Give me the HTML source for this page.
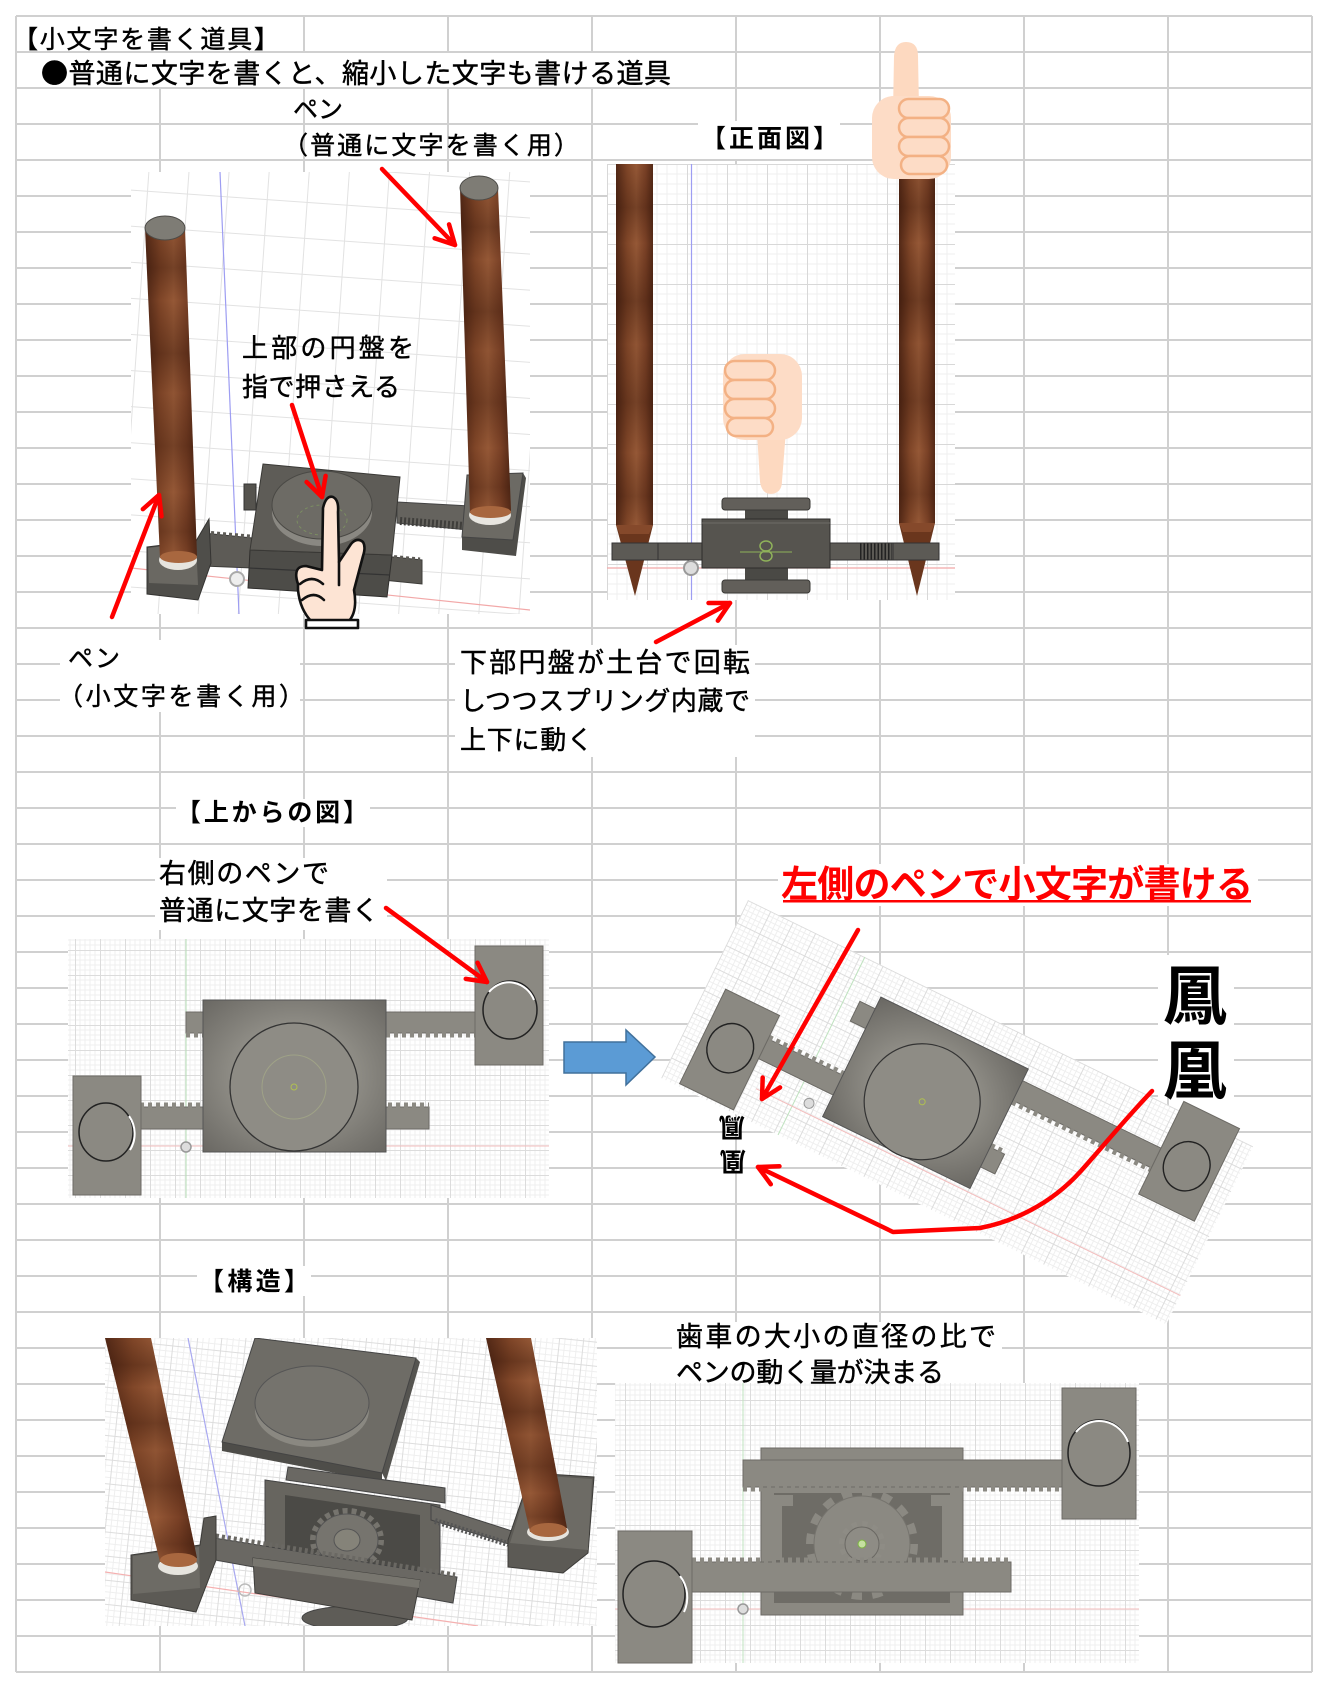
<!DOCTYPE html>
<html lang="ja"><head><meta charset="utf-8"><title>小文字を書く道具</title>
<style>
html,body{margin:0;padding:0;background:#fff;width:1328px;height:1688px;overflow:hidden}
svg{display:block}
text{font-family:"Liberation Sans","Noto Sans CJK JP",sans-serif;fill:#000}
.n{stroke:#000;stroke-width:0.45}
.b{font-weight:700}
.cj{font-family:"Noto Sans CJK JP","Liberation Sans",sans-serif}
</style></head><body>
<svg xmlns="http://www.w3.org/2000/svg" width="1328" height="1688" viewBox="0 0 1328 1688">
<defs>
<linearGradient id="pen" x1="0" y1="0" x2="1" y2="0">
<stop offset="0" stop-color="#522816"/><stop offset="0.3" stop-color="#804628"/><stop offset="0.55" stop-color="#955836"/><stop offset="0.8" stop-color="#7a4126"/><stop offset="1" stop-color="#552a17"/>
</linearGradient>
<linearGradient id="band" x1="0" y1="0" x2="0" y2="1">
<stop offset="0" stop-color="#2a0e04" stop-opacity="0"/>
<stop offset="0.12" stop-color="#2a0e04" stop-opacity="0.3"/>
<stop offset="0.22" stop-color="#2a0e04" stop-opacity="0"/>
<stop offset="0.38" stop-color="#2a0e04" stop-opacity="0.35"/>
<stop offset="0.5" stop-color="#2a0e04" stop-opacity="0.05"/>
<stop offset="0.66" stop-color="#2a0e04" stop-opacity="0.3"/>
<stop offset="0.8" stop-color="#2a0e04" stop-opacity="0"/>
<stop offset="0.92" stop-color="#2a0e04" stop-opacity="0.25"/>
<stop offset="1" stop-color="#2a0e04" stop-opacity="0"/>
</linearGradient>
<pattern id="gf" width="25" height="25" patternUnits="userSpaceOnUse">
<path d="M0 5H25M0 10H25M0 15H25M0 20H25M5 0V25M10 0V25M15 0V25M20 0V25" stroke="#efefef" stroke-width="1" fill="none"/>
<path d="M0 0.5H25M0.5 0V25" stroke="#dcdcdc" stroke-width="1" fill="none"/>
</pattern>
<pattern id="gA" width="40" height="36" patternUnits="userSpaceOnUse" patternTransform="rotate(4)">
<path d="M0 0.5H40M0.5 0V36" stroke="#e2e2e2" stroke-width="1" fill="none"/>
</pattern>
<pattern id="gB" width="40" height="40" patternUnits="userSpaceOnUse" x="607" y="164">
<path d="M0 10H40M0 20H40M0 30H40M10 0V40M20 0V40M30 0V40" stroke="#efefef" fill="none"/>
<path d="M0 0.5H40M0.5 0V40" stroke="#d8d8d8" fill="none"/>
</pattern>
<pattern id="gE" width="24" height="24" patternUnits="userSpaceOnUse" patternTransform="rotate(6)">
<path d="M0 6H24M0 12H24M0 18H24M6 0V24M12 0V24M18 0V24" stroke="#efefef" fill="none"/>
<path d="M0 0.5H24M0.5 0V24" stroke="#dddddd" fill="none"/>
</pattern>
<radialGradient id="blk" cx="0.5" cy="0.5" r="0.7">
<stop offset="0.5" stop-color="#8d8b84"/><stop offset="1" stop-color="#6a6863"/>
</radialGradient>
<marker id="ah" viewBox="-24 -14 28 28" markerWidth="28" markerHeight="28" refX="0" refY="0" orient="auto" markerUnits="userSpaceOnUse">
<path d="M-19,-10 L0,0 L-19,10" fill="none" stroke="#ff0000" stroke-width="4.5" stroke-linecap="round" stroke-linejoin="round"/>
</marker>
<clipPath id="cE"><rect x="105" y="1338" width="492" height="288"/></clipPath>
<clipPath id="cA"><rect x="131" y="172" width="399" height="442"/></clipPath>
</defs>

<rect width="1328" height="1688" fill="#fff"/>
<!-- Excel grid -->
<path fill="none" stroke="#d0d0d0" stroke-width="2" d="M16 16V1672M160 16V1672M304 16V1672M448 16V1672M592 16V1672M736 16V1672M880 16V1672M1024 16V1672M1168 16V1672M1312 16V1672
M16 16H1312M16 52H1312M16 88H1312M16 124H1312M16 160H1312M16 196H1312M16 232H1312M16 268H1312M16 304H1312M16 340H1312M16 376H1312M16 412H1312M16 448H1312M16 484H1312M16 520H1312M16 556H1312M16 592H1312M16 628H1312M16 664H1312M16 700H1312M16 736H1312M16 772H1312M16 808H1312M16 844H1312M16 880H1312M16 916H1312M16 952H1312M16 988H1312M16 1024H1312M16 1060H1312M16 1096H1312M16 1132H1312M16 1168H1312M16 1204H1312M16 1240H1312M16 1276H1312M16 1312H1312M16 1348H1312M16 1384H1312M16 1420H1312M16 1456H1312M16 1492H1312M16 1528H1312M16 1564H1312M16 1600H1312M16 1636H1312M16 1672H1312"/>

<!-- white text boxes / overflow masks -->
<g fill="#fff">
<rect x="17" y="17" width="285" height="34"/>
<rect x="17" y="53" width="700" height="34"/>
<rect x="60" y="640" width="240" height="72"/>
<rect x="455" y="645" width="300" height="112"/>
<rect x="698" y="121" width="142" height="38"/>
<rect x="176" y="799" width="194" height="28"/>
<rect x="155" y="858" width="232" height="72"/>
<rect x="778" y="864" width="480" height="42"/>
<rect x="1158" y="955" width="76" height="142"/>
<rect x="197" y="1266" width="114" height="30"/>
<rect x="672" y="1322" width="330" height="68"/>
</g>

<!-- ===== Image A: perspective view ===== -->
<rect x="131" y="172" width="399" height="442" fill="#fff"/>
<rect x="131" y="172" width="399" height="442" fill="url(#gA)"/>
<g clip-path="url(#cA)">
<line x1="220" y1="172" x2="239" y2="614" stroke="#9d9df2" stroke-width="1.2"/>
<line x1="131" y1="568" x2="530" y2="610" stroke="#f2a8a8" stroke-width="1.2"/>
</g>
<polygon points="397,502 470,506 468,530 397,523" fill="#65635e" stroke="#444"/>
<line x1="400" y1="521" x2="465" y2="526" stroke="#3f3e3b" stroke-width="8" stroke-dasharray="2 2"/>
<polygon points="383,556 422,560 422,584 383,580" fill="#5a5853" stroke="#3d3c39"/>
<line x1="388" y1="557" x2="420" y2="560" stroke="#5a5853" stroke-width="5" stroke-dasharray="3 3"/>
<polygon points="203,533 252,538 252,568 203,566" fill="#5d5b56" stroke="#3d3c39"/>
<line x1="205" y1="533" x2="250" y2="537" stroke="#5d5b56" stroke-width="5" stroke-dasharray="3 3"/>
<polygon points="467,475 523,473 526,478 516,556 462,550 462,537" fill="#4e4d49"/>
<polygon points="467,475 523,473 513,540 462,537" fill="#6c6a64" stroke="#444"/>
<ellipse cx="490" cy="515" rx="21" ry="10" fill="#e8e6e0"/>
<polygon points="250,550 392,555 387,597 248,588" fill="#4d4c48" stroke="#2f2e2c"/>
<line x1="249" y1="568" x2="390" y2="575" stroke="#333" stroke-width="1.2"/>
<polygon points="263,464 400,477 392,555 250,550" fill="#5e5c57" stroke="#3a3936"/>
<rect x="244" y="484" width="12" height="26" fill="#55534e" stroke="#333"/>
<ellipse cx="322" cy="512" rx="50" ry="34" fill="#8a8882"/>
<ellipse cx="322" cy="505" rx="50" ry="34" fill="#6d6b65" stroke="#4a4945"/>
<ellipse cx="322" cy="520" rx="25" ry="15" fill="none" stroke="#8ab060" stroke-opacity="0.5" stroke-dasharray="3 3"/>
<polygon points="147,547 196,541 209,519 211,563 198,600 147,594" fill="#4f4e4a" stroke="#353432"/>
<polygon points="148,548 196,542 198,585 149,583" fill="#6a6862"/>
<ellipse cx="178" cy="560" rx="19" ry="10" fill="#e6e4de"/>
<polygon points="145,228 185,228 197,556 160,558" fill="url(#pen)"/>
<polygon points="145,228 185,228 197,556 160,558" fill="url(#band)"/>
<ellipse cx="178.5" cy="557" rx="18.5" ry="6" fill="#a8673f"/>
<ellipse cx="165" cy="228" rx="20" ry="12" fill="#7e7c75" stroke="#4c4b47"/>
<polygon points="460,188 498,188 511,511 470,513" fill="url(#pen)"/>
<polygon points="460,188 498,188 511,511 470,513" fill="url(#band)"/>
<ellipse cx="490.5" cy="512" rx="20.5" ry="6" fill="#a8673f"/>
<ellipse cx="479" cy="188" rx="19" ry="12" fill="#7e7c75" stroke="#4c4b47"/>
<circle cx="237" cy="579" r="7" fill="#eee" stroke="#aaa" stroke-width="2"/>
<g fill="#fde4d4" stroke="#111" stroke-width="2.6" stroke-linejoin="round" stroke-linecap="round">
<path d="M298,584 Q292,566 306,566 L322,570 L323,508 Q326,495 333,497 Q339,500 338,512 L339,562 L351,544 Q357,537 363,542 Q366,547 363,556 L354,590 Q358,612 348,622 L312,622 Q300,610 298,590 Z"/>
<path d="M300,584 Q312,574 323,584" fill="none"/>
<path d="M302,600 Q314,590 324,600" fill="none"/>
<line x1="339" y1="562" x2="339" y2="585"/>
<rect x="306" y="620" width="52" height="8" fill="#fff"/>
</g>

<!-- ===== Image B: front view ===== -->
<rect x="607" y="164" width="348" height="436" fill="#fff"/>
<rect x="607" y="164" width="348" height="436" fill="url(#gB)"/>
<line x1="691.5" y1="164" x2="691.5" y2="600" stroke="#9d9df2" stroke-width="1.2"/>
<line x1="607" y1="568" x2="955" y2="568" stroke="#f2a8a8" stroke-width="1.2"/>
<rect x="616" y="164" width="37" height="361" fill="url(#pen)"/>
<rect x="616" y="164" width="37" height="361" fill="url(#band)"/>
<polygon points="616,525 653,525 635,596" fill="#6a361d"/>
<polygon points="616,525 653,525 649,534 620,534" fill="#85492b"/>
<rect x="899" y="164" width="36" height="359" fill="url(#pen)"/>
<rect x="899" y="164" width="36" height="359" fill="url(#band)"/>
<polygon points="899,523 935,523 917,596" fill="#6a361d"/>
<polygon points="899,523 935,523 931,532 903,532" fill="#85492b"/>
<rect x="612" y="543" width="327" height="17" fill="#5c5a55" stroke="#333"/>
<line x1="658" y1="543" x2="658" y2="560" stroke="#333"/>
<line x1="893" y1="543" x2="893" y2="560" stroke="#333"/>
<line x1="860" y1="551.5" x2="892" y2="551.5" stroke="#222" stroke-width="16" stroke-dasharray="1.5 2"/>
<rect x="745" y="508" width="43" height="12" fill="#4a4945"/>
<rect x="722" y="498" width="88" height="12" rx="3" fill="#625f5a" stroke="#3a3936"/>
<rect x="745" y="567" width="43" height="14" fill="#4a4945"/>
<rect x="722" y="580" width="88" height="13" rx="3" fill="#625f5a" stroke="#3a3936"/>
<rect x="702" y="519" width="128" height="49" fill="#56544f" stroke="#2e2d2b"/>
<line x1="702" y1="523" x2="830" y2="523" stroke="#6e6c67"/>
<line x1="740" y1="552" x2="792" y2="552" stroke="#8fb25a"/>
<ellipse cx="766" cy="546" rx="6" ry="5" fill="none" stroke="#8fb25a" stroke-width="1.5"/>
<ellipse cx="766" cy="556" rx="6" ry="5" fill="none" stroke="#8fb25a" stroke-width="1.5"/>
<circle cx="691" cy="568" r="7" fill="#ddd" stroke="#999" stroke-width="2"/>
<path d="M757,432 L760,482 Q762,494 771,494 Q782,493 782,481 L786,430 Z" fill="#fdd9c0"/>
<rect x="723" y="354" width="79" height="86" rx="22" fill="#fddcc6"/>
<g fill="#fddcc6" stroke="#f3b184" stroke-width="2.5">
<rect x="725" y="361" width="50" height="19" rx="9.5"/>
<rect x="725" y="380" width="50" height="19" rx="9.5"/>
<rect x="725" y="399" width="50" height="19" rx="9.5"/>
<rect x="727" y="418" width="46" height="18" rx="9"/>
</g>

<!-- thumbs up -->
<path d="M893,112 L894,56 Q895,42 906,42 Q918,42 918,56 L919,108 Z" fill="#fdd9c0"/>
<rect x="872" y="96" width="79" height="83" rx="22" fill="#fddcc6"/>
<g fill="#fddcc6" stroke="#f3b184" stroke-width="2.5">
<rect x="899" y="99" width="50" height="19" rx="9.5"/>
<rect x="899" y="118" width="50" height="19" rx="9.5"/>
<rect x="899" y="137" width="50" height="19" rx="9.5"/>
<rect x="901" y="156" width="46" height="18" rx="9"/>
</g>

<!-- ===== Image C: top view ===== -->
<rect x="68" y="939" width="481" height="259" fill="#fff"/>
<rect x="68" y="939" width="481" height="259" fill="url(#gf)"/>
<line x1="186" y1="939" x2="186" y2="1198" stroke="#b5dcb5"/>
<line x1="68" y1="1146" x2="549" y2="1146" stroke="#f3bcbc"/>
<g fill="#8b8982" stroke="#6c6a65">
<rect x="186" y="1012" width="289" height="21"/>
<rect x="140" y="1107" width="289" height="22"/>
</g>
<line x1="186" y1="1035" x2="475" y2="1035" stroke="#8b8982" stroke-width="5" stroke-dasharray="4 4"/>
<line x1="140" y1="1105" x2="429" y2="1105" stroke="#8b8982" stroke-width="5" stroke-dasharray="4 4"/>
<rect x="203" y="1000" width="183" height="152" fill="url(#blk)" stroke="#555"/>
<circle cx="294" cy="1087" r="64" fill="#8e8c85" stroke="#333" stroke-width="1.3"/>
<circle cx="294" cy="1087" r="32" fill="none" stroke="#b8c48a" stroke-opacity="0.4"/>
<circle cx="294" cy="1087" r="3" fill="none" stroke="#b0c050"/>
<rect x="475" y="946" width="68" height="119" fill="#8b8982" stroke="#6c6a65"/>
<ellipse cx="510" cy="1010" rx="27" ry="29" fill="none" stroke="#222" stroke-width="1.5"/>
<path d="M489,992 A27,29 0 0 1 534,1000" fill="none" stroke="#fff" stroke-width="2"/>
<rect x="73" y="1076" width="68" height="119" fill="#8b8982" stroke="#6c6a65"/>
<ellipse cx="106" cy="1132" rx="27" ry="29" fill="none" stroke="#222" stroke-width="1.5"/>
<path d="M129,1116 A27,29 0 0 1 130,1150" fill="none" stroke="#fff" stroke-width="2"/>
<circle cx="186" cy="1147" r="5" fill="#ddd" stroke="#999" stroke-width="1.5"/>

<polygon points="564,1042 626,1042 626,1030 655,1057 626,1085 626,1073 564,1073" fill="#5b9bd5" stroke="#41719c" stroke-width="1.5"/>

<!-- ===== Image D: rotated top view ===== -->
<g transform="translate(748,900) rotate(26)">
<rect x="0" y="0" width="562" height="198" fill="#fff"/>
<rect x="0" y="0" width="562" height="198" fill="url(#gf)"/>
<line x1="130" y1="0" x2="130" y2="198" stroke="#bfe3bf"/>
<line x1="90" y1="166" x2="562" y2="166" stroke="#f3bcbc"/>
<rect x="145" y="42" width="335" height="22" fill="#8b8982" stroke="#6c6a65"/>
<line x1="326" y1="66" x2="480" y2="66" stroke="#8b8982" stroke-width="5" stroke-dasharray="4 4"/>
<rect x="79" y="116" width="263" height="22" fill="#8b8982" stroke="#6c6a65"/>
<line x1="79" y1="114" x2="162" y2="114" stroke="#8b8982" stroke-width="5" stroke-dasharray="4 4"/>
<line x1="326" y1="114" x2="342" y2="114" stroke="#8b8982" stroke-width="5" stroke-dasharray="4 4"/>
<rect x="162" y="29" width="164" height="133" fill="url(#blk)" stroke="#555"/>
<circle cx="245" cy="105" r="58" fill="#8e8c85" stroke="#333" stroke-width="1.2"/>
<circle cx="245" cy="105" r="3" fill="none" stroke="#b0c050"/>
<rect x="19" y="90" width="60" height="105" fill="#8b8982" stroke="#6c6a65"/>
<ellipse cx="49" cy="141" rx="23" ry="25" fill="none" stroke="#222" stroke-width="1.4"/>
<rect x="480" y="-10" width="62" height="103" fill="#8b8982" stroke="#6c6a65"/>
<ellipse cx="511" cy="47" rx="23" ry="25" fill="none" stroke="#222" stroke-width="1.4"/>
<circle cx="144" cy="156" r="5" fill="#ddd" stroke="#999"/>
</g>

<!-- ===== Image E: structure ===== -->
<rect x="105" y="1338" width="492" height="288" fill="#fff"/>
<rect x="105" y="1338" width="492" height="288" fill="url(#gE)"/>
<g clip-path="url(#cE)">
<line x1="188" y1="1338" x2="245" y2="1626" stroke="#a8a8f0" stroke-width="1.2"/>
<line x1="105" y1="1572" x2="478" y2="1626" stroke="#f5b0b0" stroke-width="1.2"/>
<polygon points="222,1442 382,1473 382,1482 222,1451" fill="#4e4d49"/>
<polygon points="416,1358 420,1362 386,1481 382,1473" fill="#555450"/>
<polygon points="255,1338 416,1358 382,1473 222,1442" fill="#6e6c66" stroke="#444"/>
<ellipse cx="312" cy="1410" rx="57" ry="37" fill="#8a8881"/>
<ellipse cx="312" cy="1403" rx="57" ry="37" fill="#75736d" stroke="#555"/>
<ellipse cx="355" cy="1618" rx="53" ry="12" fill="#5e5c57" stroke="#444"/>
<polygon points="288,1467 445,1488 445,1503 286,1480" fill="#6a6863" stroke="#444"/>
<polygon points="265,1480 440,1505 440,1600 265,1572" fill="#67655f" stroke="#444"/>
<polygon points="285,1495 420,1515 420,1588 285,1565" fill="#4b4a46"/>
<ellipse cx="347" cy="1540" rx="34" ry="29" fill="none" stroke="#76746e" stroke-width="6" stroke-dasharray="5 4"/>
<ellipse cx="347" cy="1540" rx="31" ry="26" fill="#76746e" stroke="#555"/>
<ellipse cx="347" cy="1540" rx="13" ry="11" fill="#858379" stroke="#555"/>
<polygon points="431,1505 512,1531 512,1545 431,1520" fill="#6a6863" stroke="#444"/>
<line x1="435" y1="1521" x2="508" y2="1544" stroke="#555" stroke-width="6" stroke-dasharray="2 2"/>
<polygon points="208,1537 457,1577 453,1603 204,1558" fill="#6a6863" stroke="#444"/>
<line x1="210" y1="1535" x2="455" y2="1575" stroke="#6a6863" stroke-width="5" stroke-dasharray="3 3"/>
<polygon points="253,1558 420,1580 412,1620 255,1593" fill="#625f5a" stroke="#3f3e3b"/>
<polygon points="253,1558 420,1580 419,1588 253,1566" fill="#78766f"/>
<polygon points="131,1555 200,1545 204,1518 216,1516 216,1560 196,1612 131,1600" fill="#5c5a55" stroke="#3c3b38"/>
<polygon points="133,1556 199,1547 200,1588 133,1594" fill="#6d6b65"/>
<ellipse cx="178" cy="1566" rx="20" ry="9" fill="#e6e4de"/>
<polygon points="105,1338 151,1338 197,1558 160,1562" fill="url(#pen)"/>
<polygon points="105,1338 151,1338 197,1558 160,1562" fill="url(#band)"/>
<ellipse cx="178.5" cy="1560" rx="18.5" ry="7" fill="#a8673f"/>
<polygon points="531,1473 594,1477 588,1553 563,1573 508,1567 508,1540" fill="#5c5a55" stroke="#3c3b38"/>
<polygon points="531,1475 592,1479 588,1550 510,1543" fill="#6d6b65"/>
<ellipse cx="548" cy="1532" rx="21" ry="9" fill="#e6e4de"/>
<polygon points="486,1338 531,1338 567,1528 530,1532" fill="url(#pen)"/>
<polygon points="486,1338 531,1338 567,1528 530,1532" fill="url(#band)"/>
<ellipse cx="548.5" cy="1530" rx="18.5" ry="7" fill="#a8673f"/>
<circle cx="245" cy="1590" r="6" fill="none" stroke="#bbb" stroke-width="1.5"/>
</g>

<!-- ===== Image F: gear view ===== -->
<rect x="615" y="1383" width="524" height="280" fill="#fff"/>
<rect x="615" y="1383" width="524" height="280" fill="url(#gf)"/>
<line x1="743" y1="1383" x2="743" y2="1663" stroke="#bfe3bf"/>
<line x1="615" y1="1609" x2="1139" y2="1609" stroke="#f3bcbc"/>
<rect x="761" y="1448" width="202" height="14" fill="#8b8982" stroke="#6c6a65"/>
<rect x="761" y="1487" width="202" height="128" fill="#8b8982" stroke="#6c6a65"/>
<rect x="774" y="1493" width="176" height="110" fill="#6e6c66"/>
<path d="M774,1495 H793 V1506 H782 V1560 H774 Z" fill="#8b8982"/>
<path d="M950,1495 H931 V1506 H942 V1560 H950 Z" fill="#8b8982"/>
<circle cx="862" cy="1544" r="52" fill="none" stroke="#8b8982" stroke-width="8" stroke-dasharray="10.2 10.2"/>
<circle cx="862" cy="1544" r="48" fill="#8b8982" stroke="#76746e"/>
<circle cx="862" cy="1544" r="20" fill="none" stroke="#8e8c85" stroke-width="6" stroke-dasharray="5.24 5.24"/>
<circle cx="862" cy="1544" r="17" fill="#8e8c85" stroke="#6a6863"/>
<circle cx="862" cy="1544" r="4" fill="#c5e0a0" stroke="#7cb342"/>
<rect x="743" y="1460" width="319" height="27" fill="#8b8982" stroke="#6c6a65"/>
<line x1="743" y1="1489" x2="1062" y2="1489" stroke="#8b8982" stroke-width="5" stroke-dasharray="4 4"/>
<rect x="692" y="1562" width="319" height="30" fill="#8b8982" stroke="#6c6a65"/>
<line x1="692" y1="1560" x2="1011" y2="1560" stroke="#8b8982" stroke-width="5" stroke-dasharray="4 4"/>
<rect x="1062" y="1388" width="74" height="131" fill="#8b8982" stroke="#6c6a65"/>
<ellipse cx="1099" cy="1453" rx="31" ry="33" fill="none" stroke="#222" stroke-width="1.5"/>
<path d="M1076,1432 A31,33 0 0 1 1128,1442" fill="none" stroke="#fff" stroke-width="2"/>
<rect x="618" y="1531" width="74" height="132" fill="#8b8982" stroke="#6c6a65"/>
<ellipse cx="654" cy="1594" rx="31" ry="33" fill="none" stroke="#222" stroke-width="1.5"/>
<path d="M680,1576 A31,33 0 0 1 684,1612" fill="none" stroke="#fff" stroke-width="2"/>
<circle cx="743" cy="1609" r="5" fill="#ddd" stroke="#999" stroke-width="1.5"/>

<!-- ===== red arrows ===== -->
<g fill="none" stroke="#ff0000" stroke-width="4.5" stroke-linecap="round" stroke-linejoin="round" marker-end="url(#ah)">
<line x1="382" y1="169" x2="455" y2="245"/>
<line x1="292" y1="405" x2="322" y2="497"/>
<line x1="112" y1="617" x2="159" y2="495"/>
<line x1="656" y1="642" x2="730" y2="603"/>
<line x1="386" y1="908" x2="487" y2="982"/>
<line x1="858" y1="930" x2="762" y2="1099"/>
<path d="M1152,1091 C1120,1125 1100,1150 1080,1172 C1050,1205 1012,1222 980,1228 L893,1232 L758,1167"/>
</g>

<!-- ===== texts ===== -->
<text class="n cj" x="13" y="48" font-size="25" textLength="266" lengthAdjust="spacing">【小文字を書く道具】</text>
<text class="n cj" x="41" y="83" font-size="27" textLength="630" lengthAdjust="spacing">●普通に文字を書くと、縮小した文字も書ける道具</text>
<text class="n" x="318" y="118" font-size="25" text-anchor="middle">ペン</text>
<text class="n cj" x="283" y="154" font-size="25" textLength="296" lengthAdjust="spacing">（普通に文字を書く用）</text>
<text class="n" x="242" y="357" font-size="26" textLength="172" lengthAdjust="spacing">上部の円盤を</text>
<text class="n" x="242" y="396" font-size="26" textLength="158" lengthAdjust="spacing">指で押さえる</text>
<text class="n" x="68" y="667" font-size="25" textLength="52" lengthAdjust="spacing">ペン</text>
<text class="n cj" x="58" y="705" font-size="25" textLength="246" lengthAdjust="spacing">（小文字を書く用）</text>
<text class="n" x="460" y="672" font-size="27" textLength="290" lengthAdjust="spacing">下部円盤が土台で回転</text>
<text class="n" x="460" y="710" font-size="26" textLength="290" lengthAdjust="spacing">しつつスプリング内蔵で</text>
<text class="n" x="460" y="749" font-size="26" textLength="133" lengthAdjust="spacing">上下に動く</text>
<text class="b cj" x="701" y="147" font-size="25" textLength="137" lengthAdjust="spacing">【正面図】</text>
<text class="b cj" x="176" y="821" font-size="25" textLength="192" lengthAdjust="spacing">【上からの図】</text>
<text class="n" x="159" y="883" font-size="27" textLength="170" lengthAdjust="spacing">右側のペンで</text>
<text class="n" x="159" y="920" font-size="27" textLength="220" lengthAdjust="spacing">普通に文字を書く</text>
<text class="b" x="781" y="897" font-size="37" textLength="472" lengthAdjust="spacing" style="fill:#ff0000">左側のペンで小文字が書ける</text>
<rect x="783" y="900" width="468" height="2.5" fill="#ff0000"/>
<text class="b" x="1195" y="1019" font-size="64" text-anchor="middle">鳳</text>
<text class="b" x="1195" y="1094" font-size="64" text-anchor="middle">凰</text>
<text class="b" x="732" y="1138" font-size="26" text-anchor="middle" transform="rotate(180 732 1128)">鳳</text>
<text class="b" x="733" y="1172" font-size="26" text-anchor="middle" transform="rotate(180 733 1162)">凰</text>
<text class="b cj" x="199" y="1290" font-size="25" textLength="110" lengthAdjust="spacing">【構造】</text>
<text class="n" x="676" y="1346" font-size="27" textLength="320" lengthAdjust="spacing">歯車の大小の直径の比で</text>
<text class="n" x="676" y="1382" font-size="27" textLength="268" lengthAdjust="spacing">ペンの動く量が決まる</text>
</svg>
</body></html>
